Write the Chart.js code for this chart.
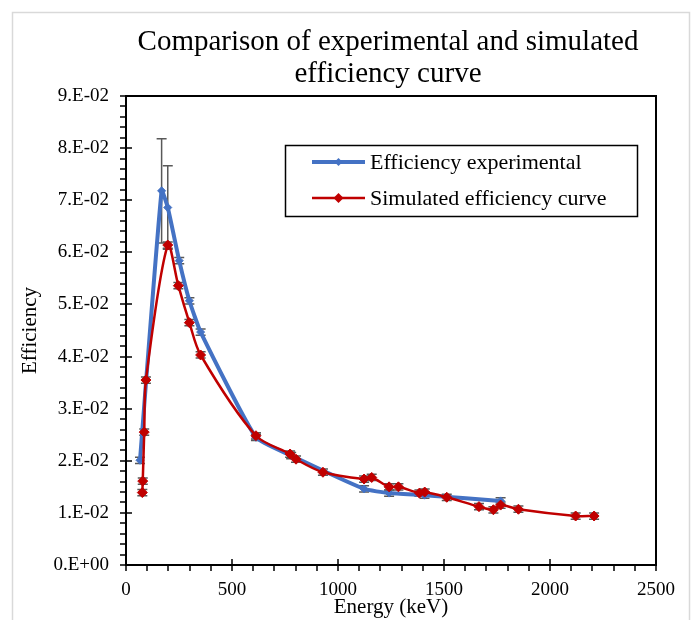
<!DOCTYPE html>
<html>
<head>
<meta charset="utf-8">
<title>Efficiency curve</title>
<script src="https://cdn.jsdelivr.net/npm/chart.js@4.4.1/dist/chart.umd.min.js"></script>
<style>
  html, body { margin: 0; padding: 0; background: #fff; }
</style>
</head>
<body>
<canvas id="effChart" width="692" height="620"></canvas>
<script>
// measured efficiency points (energy in keV) with their uncertainties
var expEnergy = [66, 168, 197, 251, 299, 352, 613, 779, 1123, 1241, 1408, 1767];
var expEff    = [0.0201, 0.0718, 0.0686, 0.0584, 0.0507, 0.0447, 0.0245, 0.0210, 0.0146, 0.0138, 0.0134, 0.0123];
var expErr    = [0.0006, 0.0100, 0.0080, 0.0006, 0.0006, 0.0006, 0.0006, 0.0006, 0.0006, 0.0006, 0.0006, 0.0006];

// simulated efficiency curve
var simEnergy = [77, 79, 86, 94, 197, 247, 299, 352, 613, 774, 802, 929, 1123, 1159, 1241, 1285, 1384, 1409, 1513, 1665, 1733, 1767, 1851, 2121, 2208];
var simEff    = [0.0139, 0.0161, 0.0255, 0.0355, 0.0614, 0.0536, 0.0465, 0.0403, 0.0248, 0.0213, 0.0203, 0.0178, 0.0165, 0.0168, 0.0150, 0.0150, 0.0138, 0.0140, 0.0130, 0.0112, 0.0106, 0.0115, 0.0107, 0.0094, 0.0094];
var simErr    = [0.0006, 0.0006, 0.0006, 0.0006, 0.0006, 0.0006, 0.0006, 0.0006, 0.0006, 0.0006, 0.0006, 0.0006, 0.0006, 0.0006, 0.0006, 0.0006, 0.0006, 0.0006, 0.0006, 0.0006, 0.0006, 0.0006, 0.0006, 0.0006, 0.0006];

var xTickLabels = ['0', '500', '1000', '1500', '2000', '2500'];
var yTickLabels = ['0.E+00', '1.E-02', '2.E-02', '3.E-02', '4.E-02', '5.E-02', '6.E-02', '7.E-02', '8.E-02', '9.E-02'];

var titleLines = ['Comparison of experimental and simulated', 'efficiency curve'];
var seriesNames = ['Efficiency experimental', 'Simulated efficiency curve'];
var BLUE = '#4472C4', RED = '#C00000', GREY = '#595959';
var SERIF = "'Liberation Serif', 'Times New Roman', serif";

function toPoints(xs, ys) {
  return xs.map(function(x, i) { return {x: x, y: ys[i]}; });
}

function diamond(ctx, cx, cy, r) {
  ctx.beginPath();
  ctx.moveTo(cx, cy - r);
  ctx.lineTo(cx + r, cy);
  ctx.lineTo(cx, cy + r);
  ctx.lineTo(cx - r, cy);
  ctx.closePath();
  ctx.fill();
}

// light frame round the whole chart
var outerFrame = {
  id: 'outerFrame',
  beforeDraw: function(chart) {
    var ctx = chart.ctx;
    ctx.save();
    ctx.fillStyle = '#fff';
    ctx.fillRect(0, 0, chart.width, chart.height);
    ctx.strokeStyle = '#d9d9d9';
    ctx.lineWidth = 1.5;
    ctx.strokeRect(12.5, 12.5, 677, 700);
    ctx.restore();
  }
};

// two-line title centred over the plot box
var plotTitle = {
  id: 'plotTitle',
  afterDraw: function(chart) {
    var ctx = chart.ctx, a = chart.chartArea;
    var cx = (a.left + a.right) / 2 - 3;
    ctx.save();
    ctx.fillStyle = '#000';
    ctx.font = '29px ' + SERIF;
    ctx.textAlign = 'center';
    ctx.textBaseline = 'middle';
    ctx.fillText(titleLines[0], cx, 42);
    ctx.fillText(titleLines[1], cx, 74);
    ctx.restore();
  }
};

// vertical error bars with caps, under the markers
var errorBars = {
  id: 'errorBars',
  beforeDatasetsDraw: function(chart) {
    var ctx = chart.ctx, ys = chart.scales.y;
    ctx.save();
    ctx.strokeStyle = GREY;
    ctx.lineWidth = 1.5;
    chart.data.datasets.forEach(function(ds, i) {
      var meta = chart.getDatasetMeta(i);
      meta.data.forEach(function(pt, j) {
        var v = ds.data[j].y, e = ds.errors[j];
        var top = ys.getPixelForValue(v + e), bot = ys.getPixelForValue(v - e);
        ctx.beginPath();
        ctx.moveTo(pt.x, top); ctx.lineTo(pt.x, bot);
        ctx.moveTo(pt.x - 5, top); ctx.lineTo(pt.x + 5, top);
        ctx.moveTo(pt.x - 5, bot); ctx.lineTo(pt.x + 5, bot);
        ctx.stroke();
      });
    });
    ctx.restore();
  }
};

// plot box plus major (crossing) and minor (outside) tick marks
var plotBox = {
  id: 'plotBox',
  afterDatasetsDraw: function(chart) {
    var ctx = chart.ctx, a = chart.chartArea, xs = chart.scales.x, ys = chart.scales.y;
    ctx.save();
    ctx.strokeStyle = '#000';
    ctx.lineWidth = 2;
    ctx.strokeRect(a.left, a.top, a.right - a.left, a.bottom - a.top);
    ctx.lineWidth = 1.5;
    ctx.beginPath();
    for (var e = 0; e <= 2500; e += 100) {
      var px = Math.round(xs.getPixelForValue(e));
      ctx.moveTo(px, a.bottom + 6);
      ctx.lineTo(px, e % 500 === 0 ? a.bottom - 6 : a.bottom);
    }
    for (var k = 0; k <= 45; k++) {
      var py = Math.round(ys.getPixelForValue(k * 0.002));
      ctx.moveTo(a.left - 6, py);
      ctx.lineTo(k % 5 === 0 ? a.left + 6 : a.left, py);
    }
    ctx.stroke();
    ctx.restore();
  }
};

// boxed legend inside the plot
var boxLegend = {
  id: 'boxLegend',
  afterDraw: function(chart) {
    var ctx = chart.ctx;
    ctx.save();
    ctx.strokeStyle = '#000';
    ctx.lineWidth = 1.5;
    ctx.strokeRect(285.5, 145.5, 352, 71);
    var rows = [
      {y: 162, color: BLUE, width: 4, r: 4},
      {y: 198, color: RED, width: 2.5, r: 5}
    ];
    ctx.font = '22px ' + SERIF;
    ctx.textBaseline = 'middle';
    rows.forEach(function(row, i) {
      ctx.strokeStyle = row.color;
      ctx.lineWidth = row.width;
      ctx.beginPath();
      ctx.moveTo(312, row.y); ctx.lineTo(365, row.y);
      ctx.stroke();
      ctx.fillStyle = row.color;
      diamond(ctx, 338.5, row.y, row.r);
      ctx.fillStyle = '#000';
      ctx.fillText(seriesNames[i], 370, row.y + 1);
    });
    ctx.restore();
  }
};

new Chart(document.getElementById('effChart'), {
  type: 'line',
  data: {
    datasets: [
      {
        label: seriesNames[0],
        data: toPoints(expEnergy, expEff),
        errors: expErr,
        borderColor: BLUE,
        backgroundColor: BLUE,
        borderWidth: 4,
        pointStyle: 'rectRot',
        pointRadius: 4,
        pointBorderWidth: 1,
        tension: 0.15,
        order: 2
      },
      {
        label: seriesNames[1],
        data: toPoints(simEnergy, simEff),
        errors: simErr,
        borderColor: RED,
        backgroundColor: RED,
        borderWidth: 2.5,
        pointStyle: 'rectRot',
        pointRadius: 5,
        pointBorderWidth: 1,
        tension: 0.3,
        order: 1
      }
    ]
  },
  options: {
    responsive: false,
    animation: false,
    devicePixelRatio: 1,
    layout: { padding: { top: 96, right: 36, bottom: 0, left: 0 } },
    plugins: {
      legend: { display: false },
      tooltip: { enabled: false },
      title: { display: false }
    },
    scales: {
      x: {
        type: 'linear',
        min: 0,
        max: 2500,
        grid: { display: false, drawTicks: false },
        border: { display: false },
        ticks: {
          stepSize: 500,
          padding: 14,
          color: '#000',
          font: { family: SERIF, size: 19 },
          maxRotation: 0,
          callback: function(v) { return xTickLabels[Math.round(v / 500)]; }
        },
        title: {
          display: true,
          text: 'Energy (keV)',
          color: '#000',
          font: { family: SERIF, size: 21, lineHeight: 1.2 },
          padding: { top: 0, bottom: 0 }
        },
        afterFit: function(s) { s.height = 55; }
      },
      y: {
        min: 0,
        max: 0.09,
        grid: { display: false, drawTicks: false },
        border: { display: false },
        ticks: {
          stepSize: 0.01,
          padding: 17,
          color: '#000',
          font: { family: SERIF, size: 19 },
          callback: function(v) { return yTickLabels[Math.round(v * 100)]; }
        },
        title: {
          display: true,
          text: 'Efficiency',
          color: '#000',
          font: { family: SERIF, size: 21, lineHeight: 1.2 },
          padding: { top: 18, bottom: 0 }
        },
        afterFit: function(s) { s.width = 126; }
      }
    }
  },
  plugins: [outerFrame, errorBars, plotBox, boxLegend, plotTitle]
});
</script>
</body>
</html>
